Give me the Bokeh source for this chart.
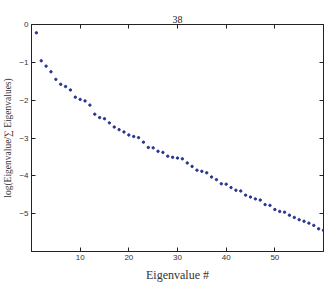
from bokeh.plotting import figure
from bokeh.models import FixedTicker, LinearAxis, Range1d
from bokeh.embed import file_html
from bokeh.resources import INLINE

title_text = "38"
x_label = "Eigenvalue #"
y_label = "log(Eigenvalue/\u2211 Eigenvalues)"
x_ticks = [10, 20, 30, 40, 50]
y_ticks = [0, -1, -2, -3, -4, -5]

eig_index = list(range(1, 61))
log_ratio = [
    -0.22, -0.96, -1.10, -1.25, -1.45, -1.58, -1.64, -1.73, -1.92, -1.98,
    -2.02, -2.13, -2.37, -2.46, -2.49, -2.60, -2.71, -2.78, -2.84, -2.92,
    -2.96, -2.99, -3.11, -3.25, -3.26, -3.35, -3.38, -3.48, -3.51, -3.53,
    -3.55, -3.66, -3.75, -3.85, -3.88, -3.92, -4.03, -4.10, -4.21, -4.22,
    -4.31, -4.38, -4.40, -4.51, -4.56, -4.61, -4.64, -4.76, -4.78, -4.89,
    -4.94, -4.96, -5.04, -5.10, -5.16, -5.20, -5.25, -5.31, -5.40, -5.44,
]

p = figure(width=325, height=284, output_backend="svg", toolbar_location=None,
           x_range=Range1d(0, 60), y_range=Range1d(-6, 0),
           min_border_left=30, min_border_right=2, min_border_top=24,
           min_border_bottom=30, title=title_text)

p.title.align = "center"
p.title.vertical_align = "top"
p.title.text_font = "Liberation Serif"
p.title.text_font_size = "10px"
p.title.text_font_style = "normal"
p.title.text_color = "#222222"
p.title.offset = 0
p.title.standoff = 0

p.scatter(eig_index, log_ratio, size=2.4, color="#2a3590", marker="circle")

p.xgrid.visible = False
p.ygrid.visible = False
p.outline_line_color = "#222222"
p.background_fill_color = "white"
p.border_fill_color = "white"

for ax in p.xaxis:
    ax.ticker = FixedTicker(ticks=x_ticks)
    ax.axis_label = x_label
    ax.axis_label_text_font = "Liberation Serif"
    ax.axis_label_text_font_style = "normal"
    ax.axis_label_text_font_size = "12px"
    ax.axis_label_standoff = 5
    ax.major_label_text_font = "Liberation Sans"
    ax.major_label_text_font_size = "8px"
    ax.major_label_standoff = 3
for ax in p.yaxis:
    ax.ticker = FixedTicker(ticks=y_ticks)
    ax.axis_label = y_label
    ax.axis_label_text_font = "Liberation Serif"
    ax.axis_label_text_font_style = "normal"
    ax.axis_label_text_font_size = "9.5px"
    ax.axis_label_standoff = 3
    ax.major_label_text_font = "Liberation Sans"
    ax.major_label_text_font_size = "8px"
    ax.major_label_standoff = 3

for ax in list(p.xaxis) + list(p.yaxis):
    ax.major_tick_in = 4
    ax.major_tick_out = 0
    ax.minor_tick_line_color = None
    ax.axis_line_color = "#222222"
    ax.major_tick_line_color = "#222222"
    ax.major_label_text_color = "#333333"
    ax.axis_label_text_color = "#333333"

top = LinearAxis(ticker=FixedTicker(ticks=x_ticks),
                 major_label_overrides={t: "" for t in x_ticks},
                 major_label_standoff=0,
                 major_tick_in=4, major_tick_out=0, minor_tick_line_color=None,
                 axis_line_color="#222222", major_tick_line_color="#222222")
right = LinearAxis(ticker=FixedTicker(ticks=y_ticks),
                   major_label_overrides={t: "" for t in y_ticks},
                   major_label_standoff=0,
                   major_tick_in=4, major_tick_out=0, minor_tick_line_color=None,
                   axis_line_color="#222222", major_tick_line_color="#222222")
p.add_layout(top, "above")
p.add_layout(right, "right")

open("out.html", "w").write(file_html(p, INLINE))
